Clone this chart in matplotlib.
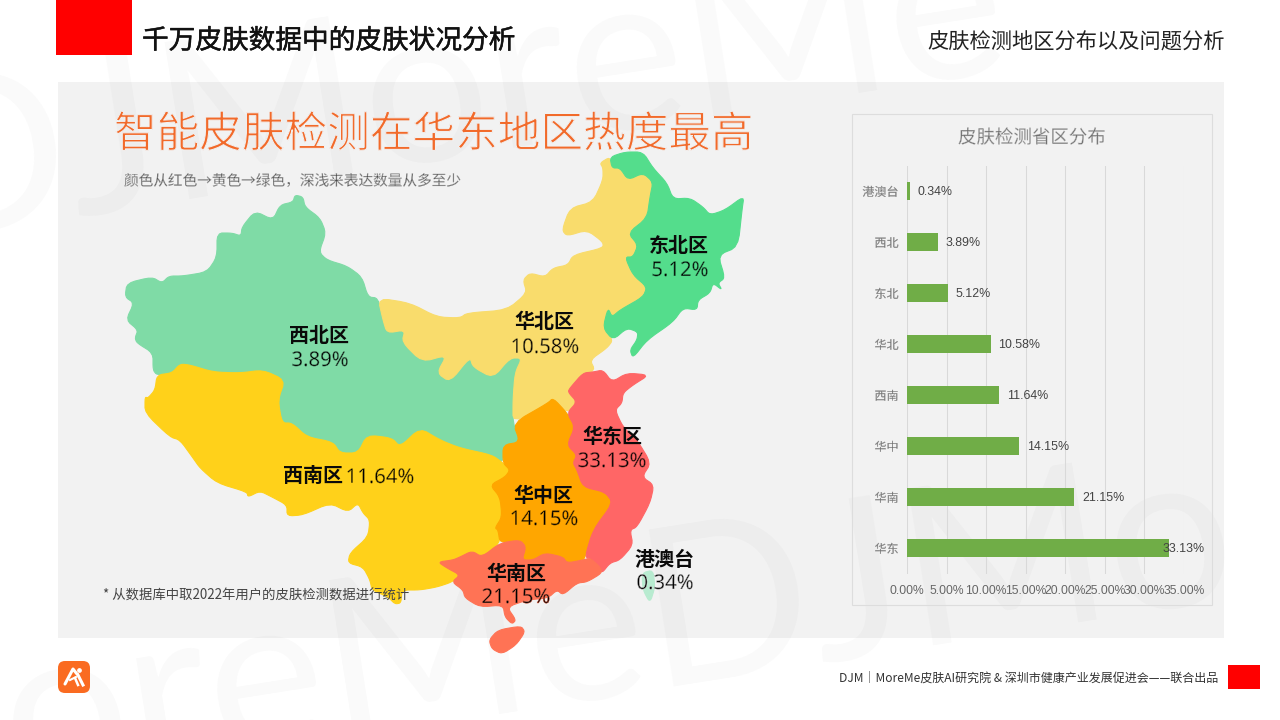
import matplotlib
matplotlib.use('Agg')
import matplotlib.pyplot as plt
import matplotlib.patheffects as pe
from matplotlib.patches import Polygon, Rectangle, FancyBboxPatch

plt.rcParams['font.family'] = ['Noto Sans CJK SC', 'DejaVu Sans']

# bar chart values
categories = ['港澳台', '西北', '东北', '华北', '西南', '华中', '华南', '华东']
shares = [0.34, 3.89, 5.12, 10.58, 11.64, 14.15, 21.15, 33.13]
x_ticks = [0, 5, 10, 15, 20, 25, 30, 35]

# map outlines (x, y in image pixels)
xibei_outline = [(295,195),(303,197),(305,207),(320,218),(326,233),(319,252),(327,260),(347,266),(362,277),(368,297),(378,298),
                 (383,320),(387,333),(405,330),(402,342),(422,362),(447,355),(437,373),(450,382),(470,357),(473,367),(493,378),
                 (510,358),(522,358),(515,373),(513,400),(513,423),(520,442),(503,445),(503,463),(492,455),(460,448),(440,440),
                 (420,428),(400,447),(392,438),(367,435),(358,453),(340,453),(333,442),(307,437),(292,423),(282,423),(278,400),
                 (285,380),(263,370),(240,373),(213,372),(190,365),(180,364),(172,373),(157,375),(153,370),(153,353),(137,343),
                 (135,338),(138,330),(126,320),(134,303),(125,297),(127,283),(152,277),(162,283),(169,276),(183,276),(207,272),
                 (217,257),(217,233),(232,233),(241,236),(242,227),(255,211),(273,220),(280,205),(293,202)]
huabei_outline = [(600,163),(610,157),(612,168),(620,168),(628,180),(643,173),(653,182),(650,197),(647,218),(628,233),(638,245),
                  (633,257),(625,257),(633,275),(647,287),(643,297),(620,310),(612,317),(608,308),(603,328),(613,340),(607,348),
                  (590,360),(595,370),(580,378),(568,392),(577,402),(567,413),(553,398),(548,403),(513,423),(513,400),(515,373),
                  (522,358),(510,358),(493,378),(473,367),(470,357),(450,382),(437,373),(447,355),(422,362),(402,342),(405,330),
                  (387,333),(383,320),(378,298),(410,303),(437,317),(460,318),(467,313),(507,310),(527,293),(523,280),(530,273),
                  (545,277),(553,268),(568,265),(573,255),(603,248),(603,242),(587,230),(567,236),(562,230),(570,208),(593,202),
                  (603,180),(603,168)]
dongbei_outline = [(610,157),(625,152),(643,152),(653,168),(667,183),(673,199),(690,198),(703,207),(710,215),(725,210),(744,196),
                   (742,210),(738,247),(718,255),(725,278),(718,283),(722,290),(713,283),(710,293),(698,300),(697,310),(683,308),
                   (673,322),(647,340),(633,358),(630,350),(637,340),(638,332),(627,328),(613,340),(603,328),(608,308),(612,317),
                   (620,310),(643,297),(647,287),(633,275),(625,257),(633,257),(638,245),(628,233),(647,218),(650,197),(653,182),
                   (643,173),(628,180),(620,168),(612,168)]
huadong_outline = [(568,392),(570,388),(583,373),(593,372),(603,370),(612,382),(627,373),(649,375),(633,385),(623,393),(622,403),
                   (615,410),(623,427),(637,440),(651,463),(642,477),(654,485),(650,503),(637,527),(630,530),(633,545),(620,560),
                   (610,563),(602,573),(600,567),(590,558),(585,557),(593,530),(613,503),(605,492),(583,487),(577,470),(573,463),
                   (577,455),(567,445),(575,427),(567,413),(577,402)]
huazhong_outline = [(513,423),(548,403),(553,398),(567,413),(575,427),(567,445),(577,455),(573,463),(577,470),(583,487),(605,492),
                    (613,503),(593,530),(585,557),(583,560),(567,563),(563,557),(545,553),(533,560),(522,560),(526,547),(520,540),
                    (500,543),(498,530),(495,528),(502,517),(500,497),(490,485),(505,477),(510,470),(503,463),(503,445),(520,442)]
huanan_outline = [(438,562),(453,560),(460,557),(472,551),(482,557),(500,543),(520,540),(526,547),(522,560),(533,560),(545,553),
                  (563,557),(567,563),(583,560),(590,558),(600,567),(602,573),(587,582),(577,583),(563,595),(557,590),(548,598),
                  (527,600),(507,607),(516,620),(512,624),(505,617),(503,605),(480,607),(465,598),(463,590),(452,582),(460,575),(447,568)]
hainan_outline = [(521,626),(525,632),(516,645),(502,654),(492,649),(489,640),(498,630)]
xinan_outline = [(157,375),(155,390),(148,398),(145,397),(145,413),(170,437),(180,440),(193,458),(200,468),(217,483),(247,492),
                 (248,497),(260,491),(272,497),(287,505),(287,516),(303,515),(330,503),(348,512),(358,503),(363,513),(370,520),
                 (368,537),(350,553),(348,563),(363,567),(370,580),(372,590),(388,597),(395,604),(401,603),(402,590),(420,590),
                 (437,587),(452,582),(460,575),(447,568),(438,562),(453,560),(460,557),(472,551),(482,557),(500,543),(498,530),
                 (495,528),(502,517),(500,497),(490,485),(505,477),(510,470),(503,463),(492,455),(460,448),(440,440),(420,428),
                 (400,447),(392,438),(367,435),(358,453),(340,453),(333,442),(307,437),(292,423),(282,423),(278,400),(285,380),
                 (263,370),(240,373),(213,372),(190,365),(180,364),(172,373)]
taiwan_outline = [(642,573),(653,570),(655,587),(650,603),(643,590)]

W, H = 1280, 720
PANEL = '#F2F2F2'
XIBEI, HUABEI, DONGBEI, XINAN = '#7FDBA6', '#F9DC6C', '#54DD8C', '#FFD11A'
HUAZHONG, HUADONG, HUANAN, TAIWAN = '#FFA600', '#FF6666', '#FF7355', '#B8EBD0'


# round off the traced corners a little
def soften(points, passes=2):
    for _ in range(passes):
        out = []
        for i, (x0, y0) in enumerate(points):
            x1, y1 = points[(i + 1) % len(points)]
            out.append((0.8 * x0 + 0.2 * x1, 0.8 * y0 + 0.2 * y1))
            out.append((0.2 * x0 + 0.8 * x1, 0.2 * y0 + 0.8 * y1))
        points = out
    return points


# CJK fonts only come in regular and bold, so eat into the glyph edge to get a light look
def thin(width, colour=PANEL):
    return [pe.Normal(), pe.Stroke(linewidth=width, foreground=colour)]


fig = plt.figure(figsize=(W / 100, H / 100), dpi=100, facecolor='white')
ax = fig.add_axes([0, 0, 1, 1])
ax.set_xlim(0, W)
ax.set_ylim(H, 0)
ax.axis('off')

# panel
ax.add_patch(Rectangle((58, 82), 1166, 556, color=PANEL, lw=0, zorder=1))

# watermark, runs off the page on purpose like the original
wm = dict(family=['Lato', 'DejaVu Sans'], weight='normal', color='black', alpha=0.022, zorder=2, rotation=9,
          rotation_mode='anchor', ha='left', va='baseline', fontsize=160)
ax.text(-90, 240, 'DJMoreMe', **wm)
ax.text(-190, 820, 'MoreMeDJMo', **wm)

# header and footer
ax.add_patch(Rectangle((56, 0), 76, 55, color='#FF0000', lw=0, zorder=3))
ax.add_patch(Rectangle((1228, 665), 32, 24, color='#FF0000', lw=0, zorder=3))
ax.text(142, 41, '千万皮肤数据中的皮肤状况分析', fontsize=19.2, color='#111111', va='center', zorder=5,
        path_effects=[pe.withStroke(linewidth=0.35, foreground='#111111')])
ax.text(1225, 43, '皮肤检测地区分布以及问题分析', fontsize=15.3, color='#222222', va='center', ha='right', zorder=5)
ax.text(1218, 678, 'DJM｜MoreMe皮肤AI研究院 & 深圳市健康产业发展促进会——联合出品', fontsize=8.65, color='#333333',
        va='center', ha='right', zorder=5)

# logo
ax.add_patch(FancyBboxPatch((63, 666), 22, 22, boxstyle='round,pad=5,rounding_size=7', fc='#FA6B21', ec='none', zorder=3))
ax.plot([65, 73, 77], [684, 669, 674], color='white', lw=2.2, zorder=4, solid_capstyle='round')
ax.plot([70, 76], [680, 677], color='white', lw=1.5, zorder=4)
ax.plot([78, 83], [675, 685], color='white', lw=2.2, zorder=4)
ax.plot([75, 78], [678, 685], color='white', lw=1.8, zorder=4)
ax.plot([79], [670], 'o', color='white', ms=2.4, zorder=4)

# titles on the panel
ax.text(114, 135, '智能皮肤检测在华东地区热度最高', fontsize=30.7, color='#F26A2A', va='center', zorder=5, path_effects=thin(0.75))
ax.text(124, 181, '颜色从红色→黄色→绿色，深浅来表达数量从多至少', fontsize=10.55, color='#4A4A4A', va='center', zorder=5,
        path_effects=thin(0.3))
ax.text(103, 596, '* 从数据库中取2022年用户的皮肤检测数据进行统计', fontsize=9.6, color='#444444', va='center', zorder=7)

# map
regions = [(xibei_outline, XIBEI), (huabei_outline, HUABEI), (dongbei_outline, DONGBEI), (xinan_outline, XINAN),
           (huazhong_outline, HUAZHONG), (huadong_outline, HUADONG), (huanan_outline, HUANAN), (hainan_outline, HUANAN),
           (taiwan_outline, TAIWAN)]
for outline, colour in regions:
    ax.add_patch(Polygon(soften(outline), closed=True, fc=colour, ec=colour, lw=0.8, zorder=4, joinstyle='round'))

# map labels use the same values as the bars
share_by_name = dict(zip(categories, shares))
name_style = dict(fontsize=14.4, weight='bold', color='#0A0A0A', ha='center', va='center', zorder=6)
pct_style = dict(family=['Noto Sans', 'DejaVu Sans'], fontsize=14.6, color='black', ha='center', va='center', zorder=6)
stacked = [('东北', '东北区', 679, 245, 680, 271, DONGBEI), ('华北', '华北区', 544, 322, 545, 348, HUABEI),
           ('西北', '西北区', 319, 335, 320, 361, XIBEI), ('华东', '华东区', 612, 436, 612, 462, HUADONG),
           ('华中', '华中区', 543, 496, 544, 520, HUAZHONG), ('华南', '华南区', 516, 573, 516, 598, HUANAN),
           ('港澳台', '港澳台', 664, 560, 665, 584, PANEL), ('西南', '西南区', 313, 476, 380, 478, XINAN)]
for key, name, nx, ny, px, py, fill in stacked:
    ax.text(nx, ny, name, **name_style)
    ax.text(px, py, f'{share_by_name[key]:.2f}%', path_effects=thin(0.35, fill), **pct_style)

# chart frame and title
ax.add_patch(Rectangle((852, 114), 360, 491, fc='none', ec='#DDDDDD', lw=0.8, zorder=3))
ax.text(1032, 138, '皮肤检测省区分布', fontsize=13.3, color='#6E6E6E', ha='center', va='center', zorder=5, path_effects=thin(0.3))

# bar chart
left, right, top, bottom = 907, 1184, 165.5, 573.5
bar_ax = fig.add_axes([left / W, 1 - bottom / H, (right - left) / W, (bottom - top) / H], facecolor='none')
bar_ax.set_zorder(5)
y_pos = list(range(len(categories)))
bar_ax.barh(y_pos, shares, height=0.35, color='#70AD47', zorder=3)
bar_ax.set_xlim(0, 35)
bar_ax.set_ylim(len(categories) - 0.5, -0.5)
bar_ax.set_xticks(x_ticks)
bar_ax.set_xticklabels([f'{t:.2f}%' for t in x_ticks], family=['Liberation Sans'], fontsize=8.7, color='#666666')
bar_ax.set_yticks(y_pos)
bar_ax.set_yticklabels(categories, fontsize=8.7, color='#6E6E6E', path_effects=thin(0.15))
bar_ax.tick_params(length=0, axis='both')
bar_ax.tick_params(axis='x', pad=8)
bar_ax.tick_params(axis='y', pad=6)
bar_ax.grid(axis='x', color='#D9D9D9', lw=0.75, zorder=0)
for spine in bar_ax.spines.values():
    spine.set_visible(False)
for y, v in zip(y_pos, shares):
    # the longest bar's label runs back over the bar end, as in the source chart
    offset = -4.5 if v > 30 else 5.5
    bar_ax.annotate(f'{v:.2f}%', (v, y), xytext=(offset, -0.7), textcoords='offset points', family=['Liberation Sans'],
                    fontsize=8.9, color='#444444', va='center', ha='left', zorder=4)

fig.savefig('out.png', dpi=100)
